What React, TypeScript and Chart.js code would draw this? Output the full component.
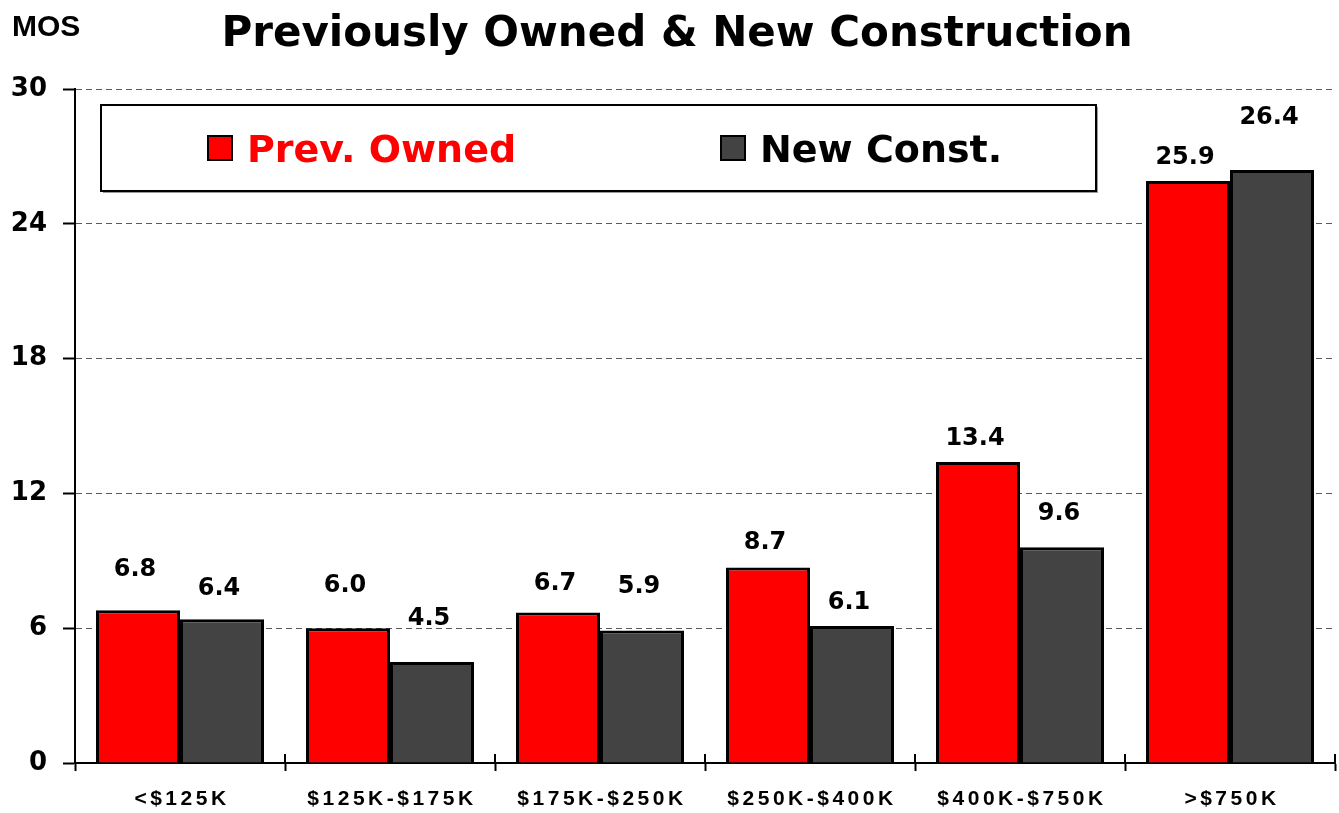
import { useEffect, useRef } from "react";
import { Chart, registerables } from "chart.js";

Chart.register(...registerables);

const categories = ["<$125K", "$125K-$175K", "$175K-$250K", "$250K-$400K", "$400K-$750K", ">$750K"];
const prevOwned = [6.8, 6.0, 6.7, 8.7, 13.4, 25.9];
const newConst = [6.4, 4.5, 5.9, 6.1, 9.6, 26.4];
const seriesNames = ["Prev. Owned", "New Const."];
const yMin = 0;
const yMax = 30;
const yStep = 6;
const titleText = "Previously Owned & New Construction";
const yUnit = "MOS";

// label lift above each bar top (px), per series
const labelLift = [
  [43, 45, 31, 28, 26, 26],
  [33, 46, 46, 26, 36, 55],
];

const RED = "#FF0000";
const GRAY = "#434343";
const LBL = "'DejaVu Sans', Verdana, sans-serif";
const ARIAL = "'Liberation Sans', Arial, sans-serif";

const decorPlugin = {
  id: "decor",
  afterDatasetsDraw(chart: any) {
    const ctx = chart.ctx as CanvasRenderingContext2D;
    ctx.save();
    ctx.fillStyle = "#000";
    ctx.font = `bold 24px ${LBL}`;
    ctx.textAlign = "center";
    ctx.textBaseline = "alphabetic";
    chart.data.datasets.forEach((ds: any, di: number) => {
      const meta = chart.getDatasetMeta(di);
      meta.data.forEach((bar: any, i: number) => {
        const v = ds.data[i] as number;
        ctx.fillText(v.toFixed(1), bar.x - 3, bar.y - labelLift[di][i] + 9);
      });
    });
    ctx.restore();
  },
  afterDraw(chart: any) {
    const ctx = chart.ctx as CanvasRenderingContext2D;
    const xs = chart.scales.x;
    const area = chart.chartArea;
    ctx.save();
    // small upward part of x-axis tick marks (crossing the axis)
    ctx.strokeStyle = "#000";
    ctx.lineWidth = 2;
    for (let i = 0; i <= categories.length; i++) {
      const px = i < categories.length ? xs.getPixelForValue(i) - (xs.getPixelForValue(1) - xs.getPixelForValue(0)) / 2 : area.right;
      ctx.beginPath();
      ctx.moveTo(Math.round(px), area.bottom);
      ctx.lineTo(Math.round(px), area.bottom - 9);
      ctx.stroke();
    }
    // title
    ctx.fillStyle = "#000";
    ctx.textAlign = "center";
    ctx.textBaseline = "alphabetic";
    ctx.font = `bold 42px ${LBL}`;
    ctx.fillText(titleText, 677, 46);
    // unit
    ctx.textAlign = "left";
    ctx.font = `bold 30px ${ARIAL}`;
    ctx.fillText(yUnit, 12, 36);
    // x labels
    ctx.textAlign = "center";
    ctx.font = `bold 21px ${ARIAL}`;
    (ctx as any).letterSpacing = "3.5px";
    categories.forEach((c, i) => {
      ctx.fillText(c, xs.getPixelForValue(i) + 2, 805);
    });
    (ctx as any).letterSpacing = "0px";
    // legend box
    const bx = 101, by = 105, bw = 995, bh = 86;
    ctx.fillStyle = "#9a9a9a";
    ctx.fillRect(bx + 2, by + 2, bw, bh);
    ctx.fillStyle = "#fff";
    ctx.fillRect(bx, by, bw, bh);
    ctx.strokeStyle = "#000";
    ctx.lineWidth = 2;
    ctx.strokeRect(bx, by, bw, bh);
    const itemX = [208, 721];
    const textColors = [RED, "#000"];
    ctx.font = `bold 38px ${LBL}`;
    ctx.textAlign = "left";
    chart.data.datasets.forEach((ds: any, di: number) => {
      const x = itemX[di];
      ctx.fillStyle = ds.backgroundColor;
      ctx.fillRect(x, 136, 24, 24);
      ctx.strokeStyle = "#000";
      ctx.lineWidth = 2;
      ctx.strokeRect(x, 136, 24, 24);
      ctx.fillStyle = textColors[di];
      ctx.fillText(ds.label, x + 39, 162);
    });
    ctx.restore();
  },
};

export default function App() {
  const ref = useRef<HTMLCanvasElement>(null);
  useEffect(() => {
    const canvas = ref.current!;
    const chart = new Chart(canvas, {
      type: "bar",
      data: {
        labels: categories,
        datasets: [
          {
            label: seriesNames[0],
            data: prevOwned,
            backgroundColor: RED,
            borderColor: "#000",
            borderWidth: 3,
            borderSkipped: "bottom",
            categoryPercentage: 0.8,
            barPercentage: 1.0,
          },
          {
            label: seriesNames[1],
            data: newConst,
            backgroundColor: GRAY,
            borderColor: "#000",
            borderWidth: 3,
            borderSkipped: "bottom",
            categoryPercentage: 0.8,
            barPercentage: 1.0,
          },
        ],
      },
      options: {
        responsive: false,
        animation: false,
        devicePixelRatio: 1,
        layout: { padding: { top: 89, left: 0, right: 4, bottom: 0 } },
        plugins: {
          legend: { display: false },
          title: { display: false },
          tooltip: { enabled: false },
        },
        scales: {
          x: {
            offset: true,
            afterFit: (s: any) => {
              s.height = 50;
            },
            grid: {
              offset: true,
              drawOnChartArea: false,
              drawTicks: true,
              tickLength: 8,
              tickColor: "#000",
              tickWidth: 2,
            },
            border: { display: true, color: "#000", width: 2 },
            ticks: { display: false },
          },
          y: {
            min: yMin,
            max: yMax,
            afterFit: (s: any) => {
              s.width = 75;
            },
            ticks: {
              stepSize: yStep,
              color: "#000",
              padding: 16,
              font: { family: LBL, size: 26, weight: "bold" },
            },
            grid: {
              color: (c: any) => (c.tick && c.tick.value === 0 ? "rgba(0,0,0,0)" : "#5a5a5a"),
              lineWidth: 1,
              tickColor: "#000",
              tickWidth: 2,
              tickLength: 12,
              tickBorderDash: [],
            },
            border: { display: true, color: "#000", width: 2, dash: [6, 4] },
          },
        },
      },
      plugins: [decorPlugin],
    } as any);
    return () => chart.destroy();
  }, []);
  return (
    <div style={{ position: "fixed", left: 0, top: 0, width: 1339, height: 813, background: "#fff" }}>
      <canvas ref={ref} width={1339} height={813} style={{ width: 1339, height: 813, display: "block" }} />
    </div>
  );
}
